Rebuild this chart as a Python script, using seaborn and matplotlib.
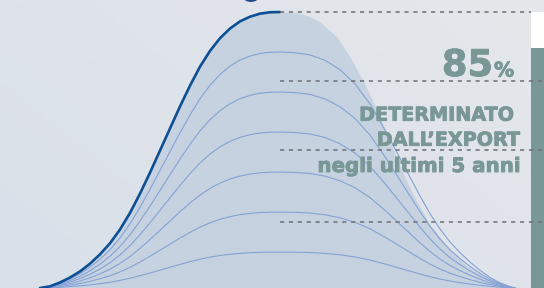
import numpy as np
import pandas as pd
import matplotlib
matplotlib.use("Agg")
import matplotlib.pyplot as plt
import matplotlib.patheffects as pe
import seaborn as sns
from matplotlib.patches import Rectangle, Ellipse
from matplotlib.colors import LinearSegmentedColormap

# ---- data (x along the curve, height in % of peak) ----
left_x = [40, 50, 60, 70, 80, 90, 100, 110, 120, 130, 140, 150, 160, 170, 180,
          190, 200, 210, 220, 230, 240, 250, 260, 270, 280]
left_pct = [0, 0.6, 2.0, 3.8, 6.0, 8.8, 12.2, 16.2, 21.2, 27.2, 34.2, 41.8, 49.8, 57.8, 65.8,
            73.3, 80.2, 85.9, 90.5, 94.0, 96.6, 98.3, 99.4, 99.9, 100]

right_line_x = [295, 310, 325, 340, 355, 370, 385, 400, 410, 420, 430, 440, 450,
                460, 470, 480, 490, 500, 510, 515]
right_line_share = [0.997, 0.988, 0.965, 0.925, 0.865, 0.78, 0.67, 0.55, 0.47, 0.39,
                    0.315, 0.25, 0.195, 0.15, 0.11, 0.075, 0.045, 0.022, 0.006, 0.0]

fill_right_x = [290, 300, 310, 320, 337, 350, 363, 377, 390, 403, 417, 430, 447, 467,
                487, 507, 520]
fill_right_pct = [99.9, 99.5, 98.3, 96.4, 90.9, 83.7, 75.2, 64.5, 53.0, 41.5, 31.2,
                  23.0, 15.0, 8.0, 3.6, 1.0, 0]

layer_peaks = [85.5, 71, 56.5, 42, 27.5, 13]
grid_levels = [100, 75, 50, 24]
grid_ends = [531, 544, 544, 544]

value_text = "85"
unit_text = "%"
caption_lines = ["DETERMINATO", "DALL\u2019EXPORT", "negli ultimi 5 anni"]

# ---- styling ----
FILL = "#c6d2e0"
THICK = "#0b4f97"
THIN = "#85a2d6"
TEAL = "#789795"
DASH = "#6c7076"

sns.set_theme(style="white")
plt.rcParams["font.family"] = ["DejaVu Sans"]
plt.rcParams["lines.scale_dashes"] = False

fig = plt.figure(figsize=(5.44, 2.88), dpi=100)
ax = fig.add_axes([0, 0, 1, 1])
YTOP = 288 / 2.76
ax.set_xlim(0, 544)
ax.set_ylim(0, YTOP)
ax.axis("off")

# background gradient
cmap = LinearSegmentedColormap.from_list("bg", ["#d9e0e9", "#e5e7eb"])
gx, gy = np.meshgrid(np.linspace(0, 1, 200), np.linspace(0, 1, 100))
grad = 0.6 * gx + 0.4 * (1 - gy)
ax.imshow(grad, cmap=cmap, extent=[0, 544, 0, YTOP], aspect="auto", zorder=0,
          origin="upper")

# fill under the main bell
fx = left_x + fill_right_x
fy = left_pct + fill_right_pct
ax.fill_between(fx, 0, fy, color=FILL, lw=0, zorder=1)

# inner layer curves
rows = []
for i, p in enumerate(layer_peaks):
    for x, v in zip(left_x, left_pct):
        rows.append({"layer": i, "x": x, "y": p * v / 100})
    for x, s in zip(right_line_x, right_line_share):
        rows.append({"layer": i, "x": x, "y": p * s})
df = pd.DataFrame(rows)
sns.lineplot(data=df, x="x", y="y", units="layer", estimator=None, sort=False,
             color=THIN, lw=0.8, ax=ax, zorder=2)

# thick outline (left half)
sns.lineplot(x=left_x, y=left_pct, sort=False, color=THICK, lw=1.9, ax=ax, zorder=3)

# dashed guide lines
for lvl, end in zip(grid_levels, grid_ends):
    ax.plot([280, end], [lvl, lvl], color=DASH, lw=1.1, ls=(0, (3, 3.4)), zorder=6)

# side bar and white box
ax.add_patch(Rectangle((531, 0), 13, (288 - 48) / 2.76, color=TEAL, lw=0, zorder=5))
ax.add_patch(Rectangle((531, (288 - 48) / 2.76), 13, 36 / 2.76, color="white", lw=0, zorder=5))

# partial dark circle at top
ax.add_patch(Ellipse((251, (288 + 9.0) / 2.76), 22, 22 / 2.76, color="#1d4f8c",
                     lw=0, zorder=4, clip_on=False))

# texts
bold = [pe.withStroke(linewidth=0.6, foreground=TEAL)]
ax.text(493, (288 - 76) / 2.76, value_text, ha="right", va="baseline", fontsize=26.5,
        fontweight="bold", color=TEAL, zorder=7, path_effects=bold)
ax.text(494, (288 - 76.5) / 2.76, unit_text, ha="left", va="baseline", fontsize=14.5,
        fontweight="bold", color=TEAL, zorder=7, path_effects=bold)
ax.text(514, (288 - 120.7) / 2.76, caption_lines[0], ha="right", va="baseline",
        fontsize=13.8, fontweight="bold", color=TEAL, zorder=7, path_effects=bold)
ax.text(520, (288 - 145.7) / 2.76, caption_lines[1], ha="right", va="baseline",
        fontsize=13.8, fontweight="bold", color=TEAL, zorder=7, path_effects=bold)
ax.text(520, (288 - 172) / 2.76, caption_lines[2], ha="right", va="baseline",
        fontsize=14.3, fontweight="bold", color=TEAL, zorder=7, path_effects=bold)

fig.savefig("out.png", dpi=100)
